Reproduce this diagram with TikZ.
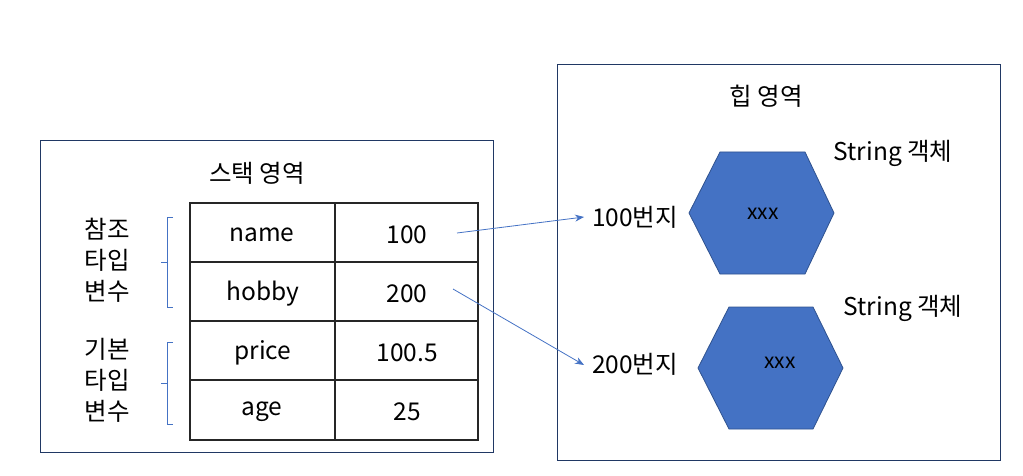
\documentclass[tikz,border=0pt]{standalone}
\usepackage{fontspec}
\setmainfont{Noto Sans CJK KR}
\usetikzlibrary{arrows.meta}
\definecolor{boxline}{HTML}{203864}
\definecolor{objblue}{HTML}{4472C4}
\definecolor{objline}{HTML}{2F528F}
\definecolor{gridline}{HTML}{262626}
\tikzset{
	area/.style={draw=boxline, line width=1pt},
	txt/.style={font=\fontsize{24.5}{31}\selectfont, inner sep=2pt},
	small/.style={font=\fontsize{21}{24}\selectfont},
	brace/.style={draw=objblue, line width=.8pt},
	ref/.style={draw=objblue, line width=.8pt, -{Stealth[length=9pt,width=7pt]}},
	hexa/.style={fill=objblue, draw=objline, line width=.8pt}
}
\begin{document}
\begin{tikzpicture}[x=1pt, y=-1pt]
				\useasboundingbox (0,0) rectangle (1023,476);
				
				% stack area
				\draw[area](40,141) rectangle (493,452);
				\draw(257,173) node[txt](stackTitle){스택 영역};
				
				\draw[gridline, line width=1.4pt](190,203) rectangle (478,440);
				\foreach \y in {262,321,380}
				\draw[gridline, line width=1.4pt] (190,\y) -- (478,\y);
				\draw[gridline, line width=1.4pt] (335,203) -- (335,440);
				
				\draw(262,235) node[txt](kName){name};
				\draw(263,294) node[txt](kHobby){hobby};
				\draw(263,353) node[txt](kPrice){price};
				\draw(262,412) node[txt](kAge){age};
				
				\draw(407,235) node[txt](vName){100};
				\draw(407,294) node[txt](vHobby){200};
				\draw(407,353) node[txt](vPrice){100.5};
				\draw(407,412) node[txt](vAge){25};
				
				\draw(107,260) node[txt, align=center](refVars){참조\\타입\\변수};
				\draw(107,380) node[txt, align=center](baseVars){기본\\타입\\변수};
				
				\draw[brace] (173,217) -- (167,217) -- (167,307) -- (173,307)
				(167,262) -- (161,262);
				\draw[brace] (173,342) -- (167,342) -- (167,424) -- (173,424)
				(167,383) -- (161,383);
				
				% heap area
				\draw[area](557,65) rectangle (1000,460);
				\draw(766,96) node[txt](heapTitle){힙 영역};
				
				\draw[hexa] (689,213) -- (720,152) -- (805,152) -- (834,213) -- (805,274) -- (720,274) -- cycle;
				\draw[hexa] (698,368) -- (729,307) -- (813,307) -- (843,368) -- (813,429) -- (729,429) -- cycle;
				\draw(763,214) node[small](objA){xxx};
				\draw(780,363) node[small](objB){xxx};
				
				\draw(893,153) node[txt](strA){String 객체};
				\draw(903,308) node[txt](strB){String 객체};
				
				\draw(590,217) node[txt, anchor=west](addrA){100번지};
				\draw(590,364) node[txt, anchor=west](addrB){200번지};
				
				% references
				\coordinate (fromA) at (457,233);
				\coordinate (fromB) at (453,289);
				\draw[ref] (fromA) -- ([xshift=-6pt]addrA.west);
				\draw[ref] (fromB) -- ([xshift=-6pt,yshift=-1pt]addrB.west);
				
\end{tikzpicture}
\end{document}
